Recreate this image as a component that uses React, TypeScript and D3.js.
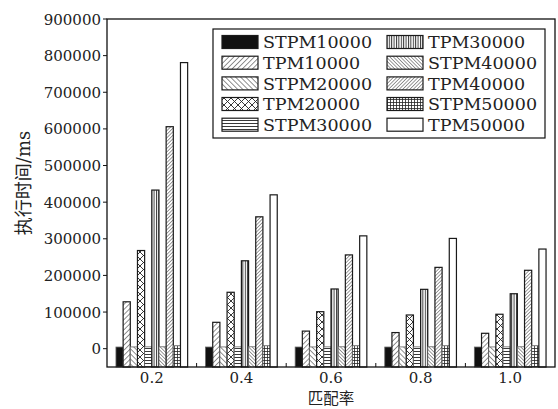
import React from "react";
import * as d3 from "d3";

const categories = ["0.2", "0.4", "0.6", "0.8", "1.0"];
const seriesNames = [
  "STPM10000", "TPM10000", "STPM20000", "TPM20000", "STPM30000",
  "TPM30000", "STPM40000", "TPM40000", "STPM50000", "TPM50000",
];
const STPM10000 = [4500, 4500, 4500, 4500, 4500];
const TPM10000 = [128000, 72000, 48000, 44000, 42000];
const STPM20000 = [4800, 4800, 4800, 4800, 4800];
const TPM20000 = [268000, 154000, 101000, 92000, 94000];
const STPM30000 = [5000, 5000, 5000, 5000, 5000];
const TPM30000 = [433000, 240000, 163000, 162000, 150000];
const STPM40000 = [5200, 5200, 5200, 5200, 5200];
const TPM40000 = [606000, 360000, 256000, 222000, 214000];
const STPM50000 = [8000, 8000, 8000, 8000, 8000];
const TPM50000 = [781000, 420000, 308000, 301000, 272000];
const seriesValues = [
  STPM10000, TPM10000, STPM20000, TPM20000, STPM30000,
  TPM30000, STPM40000, TPM40000, STPM50000, TPM50000,
];
const yTicks = [0, 100000, 200000, 300000, 400000, 500000, 600000, 700000, 800000, 900000];

const fills = [
  "#111", "url(#p1)", "url(#p2)", "url(#p3)", "url(#p4)",
  "url(#p5)", "url(#p6)", "url(#p7)", "url(#p8)", "#fff",
];
const isSTPM = (i: number) => i % 2 === 0;

const W = 558, H = 409;
const L = 107, R = 555, T = 19, B = 367;
const serif = "'DejaVu Serif', serif";
const cjk = "'Noto Sans CJK SC', sans-serif";

export default function App() {
  const x = d3.scaleBand<string>().domain(categories).range([L, R]).paddingInner(0).paddingOuter(0);
  const inner = d3.scaleBand<string>().domain(seriesNames).range([0, x.bandwidth() * 0.8]);
  const y = d3.scaleLinear().domain([-50000, 900000]).range([B, T]);
  const off = (x.bandwidth() - x.bandwidth() * 0.8) / 2;

  const legendRows = [42, 62.7, 83.4, 104, 124.7];
  return (
    <svg width={W} height={H} style={{ position: "absolute", left: 0, top: 0, background: "#fff" }}>
      <defs>
        <pattern id="p1" width="3.6" height="3.6" patternUnits="userSpaceOnUse" patternTransform="rotate(45)">
          <rect width="3.6" height="3.6" fill="#fff" />
          <line x1="0" y1="0" x2="0" y2="3.6" stroke="#222" strokeWidth="1" />
        </pattern>
        <pattern id="p2" width="3.6" height="3.6" patternUnits="userSpaceOnUse" patternTransform="rotate(-45)">
          <rect width="3.6" height="3.6" fill="#fff" />
          <line x1="0" y1="0" x2="0" y2="3.6" stroke="#222" strokeWidth="1" />
        </pattern>
        <pattern id="p3" width="7" height="7" patternUnits="userSpaceOnUse">
          <rect width="7" height="7" fill="#fff" />
          <line x1="0" y1="0" x2="7" y2="7" stroke="#222" strokeWidth="0.9" />
          <line x1="7" y1="0" x2="0" y2="7" stroke="#222" strokeWidth="0.9" />
        </pattern>
        <pattern id="p4" width="3" height="3" patternUnits="userSpaceOnUse">
          <rect width="3" height="3" fill="#fff" />
          <line x1="0" y1="0.5" x2="3" y2="0.5" stroke="#222" strokeWidth="0.9" />
        </pattern>
        <pattern id="p5" width="2.4" height="2.4" patternUnits="userSpaceOnUse">
          <rect width="2.4" height="2.4" fill="#fff" />
          <line x1="0.5" y1="0" x2="0.5" y2="2.4" stroke="#222" strokeWidth="0.9" />
        </pattern>
        <pattern id="p6" width="2.5" height="2.5" patternUnits="userSpaceOnUse" patternTransform="rotate(-45)">
          <rect width="2.5" height="2.5" fill="#fff" />
          <line x1="0" y1="0" x2="0" y2="2.5" stroke="#222" strokeWidth="0.9" />
        </pattern>
        <pattern id="p7" width="2.5" height="2.5" patternUnits="userSpaceOnUse" patternTransform="rotate(45)">
          <rect width="2.5" height="2.5" fill="#fff" />
          <line x1="0" y1="0" x2="0" y2="2.5" stroke="#222" strokeWidth="0.9" />
        </pattern>
        <pattern id="p8" width="3" height="3" patternUnits="userSpaceOnUse">
          <rect width="3" height="3" fill="#fff" />
          <line x1="0" y1="0.5" x2="3" y2="0.5" stroke="#222" strokeWidth="0.8" />
          <line x1="0.5" y1="0" x2="0.5" y2="3" stroke="#222" strokeWidth="0.8" />
        </pattern>
      </defs>

      {/* bars */}
      {categories.map((c, ci) => (
        <g key={c}>
          {seriesNames.map((s, si) => {
            const v = seriesValues[si][ci];
            const bx = (x(c) as number) + off + (inner(s) as number);
            const by = y(v);
            return (
              <rect
                key={s}
                x={bx}
                y={by}
                width={inner.bandwidth()}
                height={B - by}
                fill={fills[si]}
                stroke={isSTPM(si) ? "#666" : "#1a1a1a"}
                strokeWidth={isSTPM(si) ? 0.8 : 1.2}
              />
            );
          })}
        </g>
      ))}

      {/* frame */}
      <rect x={L} y={T} width={R - L} height={B - T} fill="none" stroke="#111" strokeWidth={1.3} />

      {/* y ticks */}
      {yTicks.map((t) => (
        <g key={t}>
          <line x1={L - 4} x2={L} y1={y(t)} y2={y(t)} stroke="#111" strokeWidth={1} />
          <text x={101} y={y(t) + 5.5} textAnchor="end" fontFamily={serif} fontSize={15} fill="#222">
            {t}
          </text>
        </g>
      ))}

      {/* x boundary ticks */}
      {categories.slice(1).map((c) => (
        <line key={c} x1={x(c)} x2={x(c)} y1={B} y2={B - 4} stroke="#111" strokeWidth={1} />
      ))}
      {categories.map((c) => (
        <text
          key={c}
          x={(x(c) as number) + x.bandwidth() / 2}
          y={382.5}
          textAnchor="middle"
          fontFamily={serif}
          fontSize={15}
          fill="#222"
        >
          {c}
        </text>
      ))}

      {/* axis titles */}
      <text x={(L + R) / 2} y={404} textAnchor="middle" fontFamily={cjk} fontSize={15.5} fill="#222">
        匹配率
      </text>
      <text
        transform={`translate(30, 183) rotate(-90)`}
        textAnchor="middle"
        fontSize={18}
        fill="#222"
      >
        <tspan fontFamily={cjk}>执行时间</tspan>
        <tspan fontFamily={serif}>/ms</tspan>
      </text>

      {/* legend */}
      <rect x={213} y={29} width={332} height={109} fill="#fff" stroke="#111" strokeWidth={1.2} />
      {seriesNames.map((s, si) => {
        const col = Math.floor(si / 5);
        const row = si % 5;
        const sx = col === 0 ? 222 : 387;
        const cy = legendRows[row];
        return (
          <g key={s}>
            <rect
              x={sx}
              y={cy - 6.5}
              width={36}
              height={13}
              fill={fills[si]}
              stroke="#1a1a1a"
              strokeWidth={1.2}
            />
            <text x={sx + 41} y={cy + 6.3} fontFamily={serif} fontSize={17.5} fill="#222">
              {s}
            </text>
          </g>
        );
      })}
    </svg>
  );
}
